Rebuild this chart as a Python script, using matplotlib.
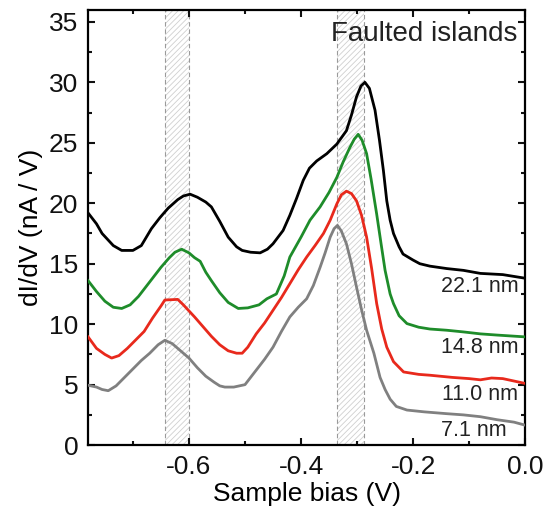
import matplotlib
matplotlib.use("Agg")
import matplotlib.pyplot as plt
from matplotlib.ticker import MultipleLocator

plt.rcParams['font.family'] = ['Liberation Sans', 'DejaVu Sans']
plt.rcParams['hatch.linewidth'] = 0.6

# ---- data ----
x_221 = [-0.78, -0.765, -0.755, -0.745, -0.735, -0.72, -0.70, -0.685, -0.667, -0.652, -0.637, -0.62,
         -0.61, -0.598, -0.585, -0.57, -0.56, -0.545, -0.53, -0.515, -0.505, -0.49, -0.473, -0.46,
         -0.45, -0.432, -0.42, -0.408, -0.396, -0.385, -0.372, -0.354, -0.336, -0.319, -0.31,
         -0.301, -0.293, -0.286, -0.278, -0.268, -0.26, -0.253, -0.247, -0.241, -0.235, -0.225,
         -0.218, -0.2, -0.188, -0.17, -0.14, -0.11, -0.08, -0.04, 0.0]
y_221 = [19.2, 18.3, 17.5, 17.0, 16.5, 16.1, 16.1, 16.5, 17.9, 18.8, 19.6, 20.3,
         20.6, 20.75, 20.5, 20.1, 19.7, 18.5, 17.2, 16.4, 16.1, 15.95, 15.9, 16.2,
         16.65, 17.75, 19.0, 20.4, 21.9, 22.9, 23.5, 24.1, 24.9, 26.0, 27.3,
         28.8, 29.7, 30.0, 29.5, 27.7, 25.2, 22.7, 20.2, 18.6, 17.5, 16.4,
         15.8, 15.3, 15.0, 14.8, 14.6, 14.45, 14.2, 14.1, 13.8]

x_148 = [-0.78, -0.765, -0.75, -0.735, -0.72, -0.705, -0.69, -0.67, -0.65, -0.635, -0.625, -0.613,
         -0.60, -0.59, -0.58, -0.57, -0.56, -0.545, -0.53, -0.512, -0.495, -0.475, -0.461, -0.444,
         -0.43, -0.42, -0.40, -0.384, -0.366, -0.35, -0.336, -0.325, -0.313, -0.305, -0.298,
         -0.291, -0.283, -0.275, -0.265, -0.257, -0.25, -0.241, -0.235, -0.225, -0.211, -0.19,
         -0.17, -0.14, -0.11, -0.08, -0.05, 0.0]
y_148 = [13.6, 12.7, 11.9, 11.4, 11.3, 11.6, 12.3, 13.5, 14.7, 15.5, 15.95, 16.2,
         15.9, 15.5, 15.2, 14.3, 13.6, 12.6, 11.8, 11.3, 11.35, 11.6, 12.1, 12.5,
         14.0, 15.55, 17.2, 18.6, 19.7, 20.9, 22.15, 23.4, 24.6, 25.3, 25.7,
         25.2, 24.1, 22.0, 19.1, 16.6, 14.45, 12.5, 11.7, 10.7, 10.05, 9.75,
         9.6, 9.5, 9.36, 9.2, 9.1, 8.95]

x_110 = [-0.78, -0.765, -0.75, -0.738, -0.725, -0.71, -0.695, -0.68, -0.665, -0.65, -0.643, -0.62,
         -0.61, -0.59, -0.575, -0.56, -0.545, -0.53, -0.515, -0.505, -0.495, -0.48, -0.465, -0.45,
         -0.435, -0.42, -0.405, -0.39, -0.375, -0.36, -0.348, -0.336, -0.328, -0.319, -0.31,
         -0.301, -0.292, -0.283, -0.274, -0.265, -0.256, -0.247, -0.235, -0.217, -0.19, -0.17,
         -0.13, -0.10, -0.08, -0.06, -0.04, -0.02, 0.0]
y_110 = [8.95, 8.0, 7.5, 7.2, 7.4, 8.0, 8.7, 9.4, 10.5, 11.5, 12.0, 12.05,
         11.6, 10.6, 9.8, 9.0, 8.3, 7.8, 7.6, 7.6, 8.1, 9.2, 10.1, 11.15,
         12.2, 13.35, 14.5, 15.55, 16.5, 17.5, 18.6, 19.96, 20.7, 21.0, 20.8,
         20.2, 19.0, 17.2, 14.6, 11.7, 9.6, 8.1, 6.9, 6.05, 5.85, 5.78,
         5.6, 5.5, 5.4, 5.55, 5.5, 5.3, 5.1]

x_71 = [-0.78, -0.765, -0.755, -0.744, -0.73, -0.715, -0.70, -0.685, -0.67, -0.655, -0.643, -0.63,
        -0.615, -0.60, -0.585, -0.57, -0.555, -0.545, -0.536, -0.52, -0.50, -0.48, -0.465, -0.45,
        -0.435, -0.42, -0.405, -0.39, -0.378, -0.366, -0.357, -0.348, -0.341, -0.335, -0.328,
        -0.319, -0.31, -0.301, -0.292, -0.283, -0.27, -0.259, -0.25, -0.241, -0.23, -0.211,
        -0.18, -0.14, -0.11, -0.08, -0.05, -0.02, 0.0]
y_71 = [4.95, 4.8, 4.6, 4.5, 4.9, 5.6, 6.3, 7.0, 7.6, 8.3, 8.67, 8.4,
        7.8, 7.2, 6.4, 5.7, 5.2, 4.9, 4.8, 4.8, 5.0, 6.2, 7.1, 8.1,
        9.4, 10.6, 11.4, 12.1, 13.2, 14.7, 15.9, 17.2, 17.9, 18.17, 17.7,
        16.65, 15.0, 13.07, 11.2, 9.5, 7.6, 5.6, 4.6, 3.8, 3.2, 2.9,
        2.75, 2.6, 2.5, 2.35, 2.1, 1.9, 1.65]

series = [
    (x_221, y_221, '#000000', '22.1 nm', 13.1, -0.012),
    (x_148, y_148, '#1e8c2a', '14.8 nm', 8.05, -0.012),
    (x_110, y_110, '#e8291c', '11.0 nm', 4.2, -0.012),
    (x_71, y_71, '#808080', '7.1 nm', 1.2, -0.033),
]

bands = [(-0.643, -0.600), (-0.336, -0.287)]

fig = plt.figure(figsize=(5.54, 5.14), dpi=100)
ax = fig.add_axes([0.159, 0.134, 0.789, 0.847])

for lo, hi in bands:
    ax.axvspan(lo, hi, facecolor='none', edgecolor='#cfcfcf', hatch='//////', linewidth=0, zorder=1)
    for v in (lo, hi):
        ax.axvline(v, color='#9a9a9a', linestyle=(0, (4, 2.5)), linewidth=0.8, zorder=1)

for xs, ys, c, lab, ly, lx in series:
    ax.plot(xs, ys, color=c, linewidth=2.0, zorder=3)
    ax.text(lx, ly, lab, ha='right', va='center', fontsize=15.5, color='#222222', zorder=4)

ax.text(-0.014, 34.0, 'Faulted islands', ha='right', va='center', fontsize=20, color='#222222')

ax.set_xlim(-0.78, 0.0)
ax.set_ylim(0, 36)
ax.xaxis.set_major_locator(MultipleLocator(0.2))
ax.xaxis.set_minor_locator(MultipleLocator(0.1))
ax.yaxis.set_major_locator(MultipleLocator(5))
ax.yaxis.set_minor_locator(MultipleLocator(2.5))
ax.set_xticks([-0.6, -0.4, -0.2, 0.0])
ax.set_xticklabels(['-0.6', '-0.4', '-0.2', '0.0'])
ax.tick_params(which='both', direction='in', top=True, right=True, width=1.5, colors='#111111')
ax.tick_params(which='major', length=5, labelsize=19, pad=7)
ax.tick_params(which='minor', length=3)
for s in ax.spines.values():
    s.set_linewidth(1.6)

ax.set_xlabel('Sample bias (V)', fontsize=19, labelpad=2)
ax.set_ylabel('dI/dV (nA / V)', fontsize=19, labelpad=4)

fig.savefig('out.png', dpi=100)
